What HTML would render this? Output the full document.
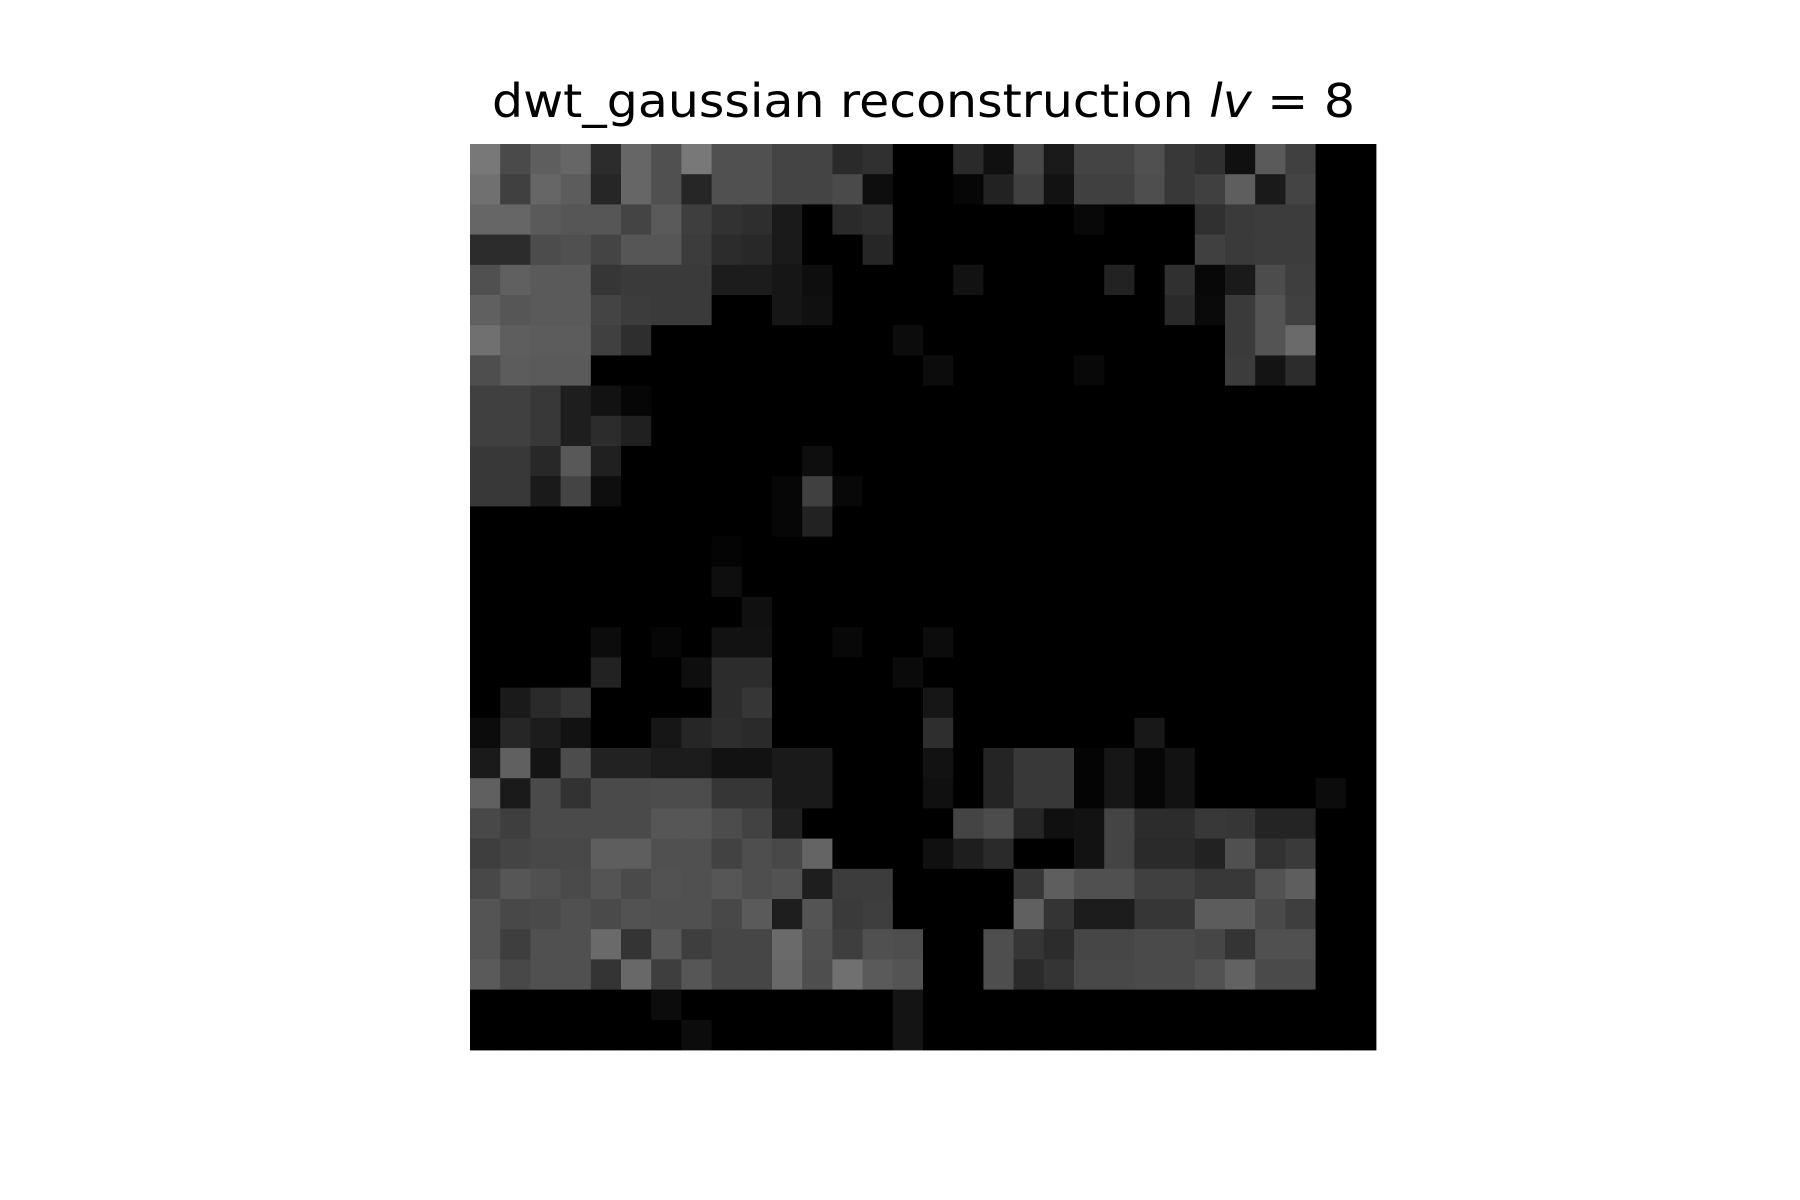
<!DOCTYPE html>
<html>
<head>
<meta charset="utf-8">
<style>
  html, body { margin: 0; padding: 0; background: #fff; }
  svg { display: block; }
</style>
</head>
<body>
<svg id="chart" width="1800" height="1200" viewBox="0 0 1800 1200" xmlns="http://www.w3.org/2000/svg">
  <rect x="0" y="0" width="1800" height="1200" fill="#ffffff"/>
  <text x="923.5" y="117" text-anchor="middle" font-family="DejaVu Sans, Liberation Sans, sans-serif" font-size="46" fill="#000" textLength="863" lengthAdjust="spacingAndGlyphs">dwt_gaussian reconstruction <tspan font-style="italic">lv</tspan> = 8</text>
  <g id="heatmap"></g>
</svg>
<script>
const nRows = 30;
const nCols = 30;
const row00 = [0x78,0x4a,0x5e,0x66,0x2c,0x66,0x50,0x78,0x50,0x50,0x44,0x44,0x2a,0x30,0,0,0x2a,0x10,0x48,0x1a,0x44,0x44,0x50,0x38,0x30,0x10,0x5a,0x40,0,0];
const row01 = [0x70,0x40,0x66,0x5c,0x26,0x66,0x50,0x26,0x50,0x50,0x44,0x44,0x4a,0x0e,0,0,0x06,0x22,0x40,0x12,0x40,0x40,0x4e,0x38,0x40,0x5e,0x1a,0x44,0,0];
const row02 = [0x66,0x66,0x5a,0x56,0x56,0x44,0x5a,0x3e,0x32,0x2e,0x1a,0,0x2a,0x2e,0,0,0,0,0,0,0x08,0,0,0,0x30,0x3a,0x3c,0x3c,0,0];
const row03 = [0x2c,0x2c,0x4c,0x50,0x44,0x56,0x56,0x3c,0x2c,0x28,0x1a,0,0,0x26,0,0,0,0,0,0,0,0,0,0,0x40,0x3a,0x3c,0x3c,0,0];
const row04 = [0x50,0x60,0x5a,0x5a,0x36,0x3a,0x3a,0x3a,0x1c,0x1c,0x16,0x0e,0,0,0,0,0x12,0,0,0,0,0x22,0,0x30,0x08,0x1a,0x4c,0x3e,0,0];
const row05 = [0x60,0x56,0x5a,0x5a,0x44,0x3c,0x3a,0x3a,0,0,0x16,0x10,0,0,0,0,0,0,0,0,0,0,0,0x2a,0x0a,0x3a,0x54,0x40,0,0];
const row06 = [0x70,0x5e,0x5c,0x5c,0x40,0x2e,0,0,0,0,0,0,0,0,0x0c,0,0,0,0,0,0,0,0,0,0,0x3a,0x54,0x6a,0,0];
const row07 = [0x4e,0x5c,0x5a,0x5a,0,0,0,0,0,0,0,0,0,0,0,0x0c,0,0,0,0,0x08,0,0,0,0,0x3c,0x14,0x2c,0,0];
const row08 = [0x40,0x40,0x38,0x1e,0x12,0x06,0,0,0,0,0,0,0,0,0,0,0,0,0,0,0,0,0,0,0,0,0,0,0,0];
const row09 = [0x40,0x40,0x38,0x1e,0x2c,0x20,0,0,0,0,0,0,0,0,0,0,0,0,0,0,0,0,0,0,0,0,0,0,0,0];
const row10 = [0x38,0x38,0x28,0x58,0x20,0,0,0,0,0,0,0x0e,0,0,0,0,0,0,0,0,0,0,0,0,0,0,0,0,0,0];
const row11 = [0x38,0x38,0x1a,0x44,0x0e,0,0,0,0,0,0x06,0x40,0x08,0,0,0,0,0,0,0,0,0,0,0,0,0,0,0,0,0];
const row12 = [0,0,0,0,0,0,0,0,0,0,0x06,0x22,0,0,0,0,0,0,0,0,0,0,0,0,0,0,0,0,0,0];
const row13 = [0,0,0,0,0,0,0,0,0x04,0,0,0,0,0,0,0,0,0,0,0,0,0,0,0,0,0,0,0,0,0];
const row14 = [0,0,0,0,0,0,0,0,0x0e,0,0,0,0,0,0,0,0,0,0,0,0,0,0,0,0,0,0,0,0,0];
const row15 = [0,0,0,0,0,0,0,0,0,0x10,0,0,0,0,0,0,0,0,0,0,0,0,0,0,0,0,0,0,0,0];
const row16 = [0,0,0,0,0x0c,0,0x06,0,0x12,0x12,0,0,0x08,0,0,0x0c,0,0,0,0,0,0,0,0,0,0,0,0,0,0];
const row17 = [0,0,0,0,0x22,0,0,0x0e,0x2c,0x2c,0,0,0,0,0x0a,0,0,0,0,0,0,0,0,0,0,0,0,0,0,0];
const row18 = [0,0x1a,0x2a,0x34,0,0,0,0,0x2c,0x36,0,0,0,0,0,0x16,0,0,0,0,0,0,0,0,0,0,0,0,0,0];
const row19 = [0x0c,0x26,0x1c,0x12,0,0,0x16,0x26,0x2e,0x2a,0,0,0,0,0,0x2e,0,0,0,0,0,0,0x18,0,0,0,0,0,0,0];
const row20 = [0x1a,0x60,0x14,0x4c,0x22,0x22,0x1c,0x1c,0x12,0x12,0x1a,0x1a,0,0,0,0x12,0,0x24,0x38,0x38,0x04,0x16,0x06,0x12,0,0,0,0,0,0];
const row21 = [0x60,0x1a,0x4a,0x32,0x4a,0x4a,0x4c,0x4c,0x36,0x36,0x1a,0x1a,0,0,0,0x10,0,0x24,0x38,0x38,0x04,0x16,0x06,0x12,0,0,0,0,0x0c,0];
const row22 = [0x48,0x3e,0x4a,0x4a,0x4a,0x4a,0x56,0x56,0x4c,0x42,0x20,0,0,0,0,0,0x44,0x4c,0x26,0x10,0x12,0x44,0x2c,0x2c,0x38,0x36,0x24,0x24,0,0];
const row23 = [0x3e,0x44,0x48,0x48,0x5e,0x5e,0x50,0x50,0x42,0x4e,0x48,0x64,0,0,0,0x10,0x1e,0x2a,0,0,0x12,0x44,0x2a,0x2a,0x22,0x50,0x32,0x3a,0,0];
const row24 = [0x48,0x56,0x50,0x4a,0x54,0x4a,0x52,0x50,0x56,0x4e,0x52,0x1e,0x3c,0x3c,0,0,0,0,0x36,0x5e,0x50,0x50,0x40,0x40,0x38,0x38,0x52,0x5e,0,0];
const row25 = [0x54,0x48,0x4a,0x50,0x4a,0x52,0x50,0x50,0x48,0x5a,0x1e,0x54,0x3a,0x3e,0,0,0,0,0x60,0x34,0x1c,0x1c,0x36,0x36,0x5c,0x5c,0x4a,0x3e,0,0];
const row26 = [0x54,0x3e,0x50,0x50,0x6a,0x34,0x58,0x3e,0x46,0x46,0x6a,0x50,0x3e,0x50,0x4e,0,0,0x4e,0x36,0x2c,0x46,0x46,0x4a,0x4a,0x46,0x34,0x50,0x50,0,0];
const row27 = [0x5a,0x48,0x50,0x50,0x34,0x68,0x3e,0x56,0x46,0x46,0x68,0x4e,0x70,0x5a,0x54,0,0,0x4e,0x2a,0x34,0x48,0x48,0x4a,0x4a,0x52,0x62,0x4a,0x4a,0,0];
const row28 = [0,0,0,0,0,0,0x0c,0,0,0,0,0,0,0,0x14,0,0,0,0,0,0,0,0,0,0,0,0,0,0,0];
const row29 = [0,0,0,0,0,0,0,0x0c,0,0,0,0,0,0,0x14,0,0,0,0,0,0,0,0,0,0,0,0,0,0,0];
const grid = [row00,row01,row02,row03,row04,row05,row06,row07,row08,row09,row10,row11,row12,row13,row14,row15,row16,row17,row18,row19,row20,row21,row22,row23,row24,row25,row26,row27,row28,row29];

const plotX = 470, plotY = 144, plotW = 906, plotH = 906;
function xScale(c) { return plotX + c * plotW / nCols; }
function yScale(r) { return plotY + r * plotH / nRows; }
function grey(v) { const h = Math.max(0, Math.min(255, Math.round(v))); return 'rgb(' + h + ',' + h + ',' + h + ')'; }

const g = document.getElementById('heatmap');
const ns = 'http://www.w3.org/2000/svg';
for (let r = 0; r < grid.length; r++) {
  for (let c = 0; c < grid[r].length; c++) {
    const rect = document.createElementNS(ns, 'rect');
    const x0 = xScale(c), x1 = xScale(c + 1), y0 = yScale(r), y1 = yScale(r + 1);
    rect.setAttribute('x', x0.toFixed(2));
    rect.setAttribute('y', y0.toFixed(2));
    rect.setAttribute('width', (x1 - x0 + 0.4).toFixed(2));
    rect.setAttribute('height', (y1 - y0 + 0.4).toFixed(2));
    rect.setAttribute('fill', grey(grid[r][c]));
    
    
    g.appendChild(rect);
  }
}
</script>
</body>
</html>
